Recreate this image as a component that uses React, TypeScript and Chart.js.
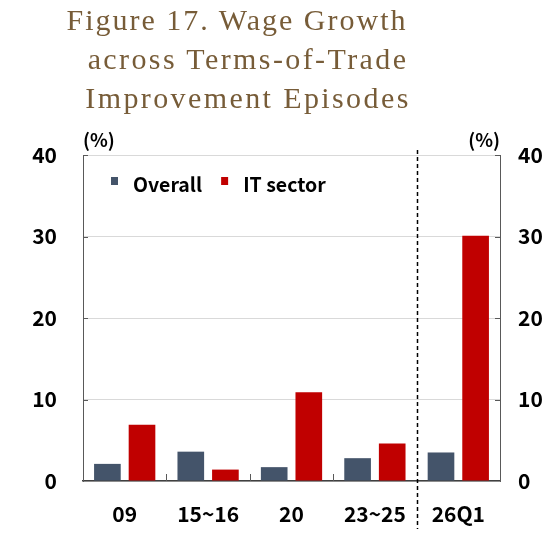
import { Chart, registerables } from 'chart.js';
import { useEffect, useRef } from 'react';

Chart.register(...registerables);

const categories = ['09', '15~16', '20', '23~25', '26Q1'];
const overall = [2.1, 3.6, 1.7, 2.8, 3.5];
const itSector = [6.9, 1.4, 10.9, 4.6, 30.1];
const yMin = 0;
const yMax = 40;
const yStep = 10;
// dashed separator sits after this category
const dividerAfter = '23~25';

const FONT = '"Noto Sans CJK KR", "Noto Sans", sans-serif';
const AXIS = '#595959';

const overlayPlugin = {
    id: 'overlay',
    afterDraw(chart: any) {
        const { ctx, chartArea: a, scales } = chart;
        const x = scales.x;
        const y = scales.y;
        ctx.save();

        // inward tick marks on both y axes
        ctx.strokeStyle = AXIS;
        ctx.lineWidth = 1;
        for (let v = yMin + yStep; v <= yMax; v += yStep) {
            const py = Math.round(y.getPixelForValue(v)) + 0.5;
            ctx.beginPath();
            ctx.moveTo(a.left, py);
            ctx.lineTo(a.left + 5, py);
            ctx.moveTo(a.right - 5, py);
            ctx.lineTo(a.right, py);
            ctx.stroke();
        }

        // tick marks between categories, pointing up
        const half = (x.getPixelForValue(1) - x.getPixelForValue(0)) / 2;
        const divIdx = categories.indexOf(dividerAfter);
        for (let i = 0; i < categories.length - 1; i++) {
            if (i === divIdx) continue;
            const px = Math.round(x.getPixelForValue(i) + half) + 0.5;
            ctx.beginPath();
            ctx.moveTo(px, a.bottom);
            ctx.lineTo(px, a.bottom - 7);
            ctx.stroke();
        }

        // dashed divider
        const dx = Math.round(x.getPixelForValue(divIdx) + half) + 0.5;
        ctx.strokeStyle = '#000';
        ctx.lineWidth = 1.5;
        ctx.setLineDash([4, 3]);
        ctx.beginPath();
        ctx.moveTo(dx, a.top - 5);
        ctx.lineTo(dx, a.bottom + 48);
        ctx.stroke();
        ctx.setLineDash([]);

        // unit labels
        ctx.fillStyle = '#000';
        ctx.font = `bold 18.5px ${FONT}`;
        ctx.textBaseline = 'alphabetic';
        ctx.textAlign = 'left';
        ctx.fillText('(%)', a.left, a.top - 8);
        ctx.textAlign = 'right';
        ctx.fillText('(%)', a.right, a.top - 8);

        // legend inside the plot
        let lx = a.left + 28;
        const ly = a.top + 30;
        ctx.font = `bold 19.5px ${FONT}`;
        ctx.textAlign = 'left';
        ctx.textBaseline = 'middle';
        chart.data.datasets.forEach((ds: any) => {
            ctx.fillStyle = ds.backgroundColor;
            ctx.fillRect(lx, ly - 8, 7, 8);
            ctx.fillStyle = '#000';
            ctx.fillText(ds.label, lx + 22, ly);
            lx += 22 + ctx.measureText(ds.label).width + 19;
        });

        ctx.restore();
    },
};

function WageChart() {
    const chartRef = useRef<HTMLCanvasElement>(null);
    const chartInstance = useRef<Chart | null>(null);

    useEffect(() => {
        if (!chartRef.current) return;
        if (chartInstance.current) chartInstance.current.destroy();
        const ctx = chartRef.current.getContext('2d');
        if (!ctx) return;

        const tickFont = { family: FONT, size: 21, weight: 'bold' as const };

        chartInstance.current = new Chart(ctx, {
            type: 'bar',
            data: {
                labels: categories,
                datasets: [
                    {
                        label: 'Overall',
                        data: overall,
                        backgroundColor: '#44546a',
                        categoryPercentage: 0.83,
                        barPercentage: 0.77,
                    },
                    {
                        label: 'IT sector',
                        data: itSector,
                        backgroundColor: '#c00000',
                        categoryPercentage: 0.83,
                        barPercentage: 0.77,
                    },
                ],
            },
            options: {
                animation: false,
                responsive: true,
                maintainAspectRatio: false,
                layout: { padding: { top: 155, left: 0, right: 0, bottom: 0 } },
                plugins: {
                    legend: { display: false },
                    tooltip: { enabled: false },
                },
                scales: {
                    x: {
                        grid: { display: false, drawTicks: false },
                        border: { display: true, color: '#404040', width: 1.5 },
                        ticks: { color: '#000', font: tickFont, padding: 20 },
                        afterFit: (s: any) => {
                            s.height = 56;
                        },
                    },
                    y: {
                        position: 'left',
                        min: yMin,
                        max: yMax,
                        grid: { color: '#d9d9d9', lineWidth: 1, drawTicks: false },
                        border: { display: true, color: AXIS, width: 1 },
                        ticks: { stepSize: yStep, color: '#000', font: tickFont, padding: 26 },
                        afterFit: (s: any) => {
                            s.width = 83;
                        },
                    },
                    y2: {
                        position: 'right',
                        display: true,
                        min: yMin,
                        max: yMax,
                        grid: { display: false, drawTicks: false },
                        border: { display: true, color: AXIS, width: 1 },
                        ticks: { stepSize: yStep, color: '#000', font: tickFont, padding: 18 },
                        afterFit: (s: any) => {
                            s.width = 57;
                        },
                    },
                },
            },
            plugins: [overlayPlugin],
        } as any);

        return () => {
            if (chartInstance.current) {
                chartInstance.current.destroy();
                chartInstance.current = null;
            }
        };
    }, []);

    return <canvas ref={chartRef} />;
}

const titleLine = { whiteSpace: 'nowrap' as const };

export default function App() {
    return (
        <div style={{ position: 'absolute', left: 0, top: 0, width: 557, height: 537, background: '#fff' }}>
            <div style={{ position: 'absolute', left: 0, top: 0, width: 557, height: 537 }}>
                <WageChart />
            </div>
            <div
                style={{
                    position: 'absolute',
                    left: 0,
                    top: 0,
                    width: 496,
                    textAlign: 'center',
                    fontFamily: '"Liberation Serif", "Times New Roman", serif',
                    fontSize: 30,
                    lineHeight: '39px',
                    letterSpacing: '2px',
                    color: '#775c38',
                }}
            >
                <div style={{ ...titleLine, paddingRight: 22 }}>Figure 17. Wage Growth</div>
                <div style={{ ...titleLine, letterSpacing: '2.4px' }}>across Terms-of-Trade</div>
                <div style={{ ...titleLine, letterSpacing: '2.4px' }}>Improvement Episodes</div>
            </div>
        </div>
    );
}
